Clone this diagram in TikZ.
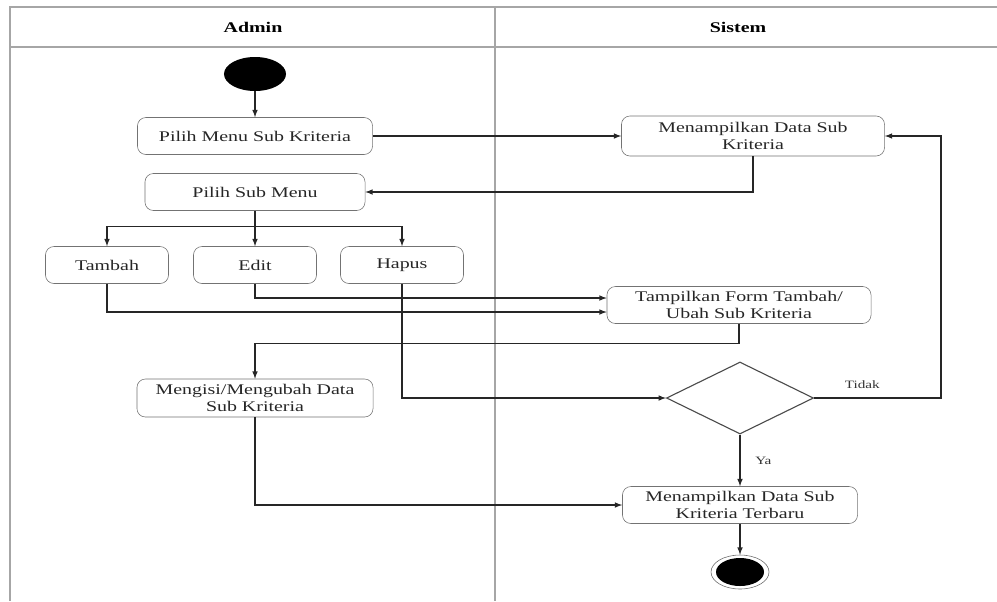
\documentclass[tikz,border=0pt]{standalone}
\usepackage{fontspec}
\setmainfont[FakeStretch=1.35]{Liberation Serif}
\usetikzlibrary{arrows,shapes.geometric,calc}

\begin{document}
\begin{tikzpicture}[x=0.025cm,y=-0.025cm,
  aksi/.style={draw=black!55,rounded corners=6pt,fill=white,align=center,inner sep=1pt,
    font=\fontsize{10.5}{11.5}\selectfont,text=black!85},
  panah/.style={-latex,black!85,line width=0.8pt},
  lajur/.style={black!35,line width=1.2pt},
  ket/.style={font=\fontsize{8}{9}\selectfont,text=black!80}]
\useasboundingbox (0,0) rectangle (997,601);
% swimlane
\draw[lajur] (10,601) -- (10,7) -- (997,7);
\draw[lajur] (10,47) -- (997,47);
\draw[lajur] (495,7) -- (495,601);
\node[font=\bfseries\fontsize{10.5}{12}\selectfont] (admin) at (253,27) {Admin};
\node[font=\bfseries\fontsize{10.5}{12}\selectfont] (sistem) at (738,27) {Sistem};

% aktivitas
\node[ellipse,fill=black,minimum width=1.55cm,minimum height=0.85cm] (mulai) at (255,74) {};
\node[aksi,minimum width=5.875cm,minimum height=0.925cm] (pilihmenu) at (255,136) {Pilih Menu Sub Kriteria};
\node[aksi,minimum width=6.575cm,minimum height=1cm] (datasub) at (753,136) {Menampilkan Data Sub\\Kriteria};
\node[aksi,minimum width=5.5cm,minimum height=0.925cm] (pilihsub) at (255,192) {Pilih Sub Menu};
\node[aksi,minimum width=3.075cm,minimum height=0.925cm] (tambah) at (107,265) {Tambah};
\node[aksi,minimum width=3.075cm,minimum height=0.925cm] (edit) at (255,265) {Edit};
\node[aksi,minimum width=3.075cm,minimum height=0.925cm] (hapus) at (402,265) {Hapus};
\node[aksi,minimum width=6.6cm,minimum height=0.925cm] (form) at (739,305) {Tampilkan Form Tambah/\\Ubah Sub Kriteria};
\node[aksi,minimum width=5.9cm,minimum height=0.95cm] (mengisi) at (255,398) {Mengisi/Mengubah Data\\Sub Kriteria};
\node[diamond,draw=black!70,line width=0.8pt,minimum width=3.675cm,minimum height=1.8cm,inner sep=0pt] (cek) at (740,398) {};
\node[aksi,minimum width=5.875cm,minimum height=0.925cm] (terbaru) at (740,505) {Menampilkan Data Sub\\Kriteria Terbaru};
\node[ellipse,draw=black!60,minimum width=1.45cm,minimum height=0.85cm] (selesai) at (740,572) {};
\node[ellipse,fill=black,minimum width=1.2cm,minimum height=0.7cm] (selesaiisi) at (selesai) {};

% alur
\coordinate (cabang) at ($(pilihsub.south)+(0,16)$);
\coordinate (balik) at (941,398);
\draw[panah] (mulai) -- (pilihmenu);
\draw[panah] (pilihmenu) -- (datasub);
\draw[panah] (datasub) |- (pilihsub);
\draw[panah] (pilihsub) -- (edit);
\draw[panah] (cabang) -| (tambah);
\draw[panah] (cabang) -| (hapus);
\draw[panah] (edit) |- ($(form.west)+(0,-7)$);
\draw[panah] (tambah) |- ($(form.west)+(0,7)$);
\draw[panah] (form.south) -- ++(0,20) -| (mengisi);
\draw[panah] (hapus) |- (cek);
\draw[panah] (cek.east) -- node[ket,above=3pt,pos=0.38] {Tidak} (balik) |- (datasub.east);
\draw[panah] (cek) -- node[ket,right=2.5mm,pos=0.5] {Ya} (terbaru);
\draw[panah] (mengisi) |- (terbaru);
\draw[panah] (terbaru) -- (selesai);
\end{tikzpicture}
\end{document}
